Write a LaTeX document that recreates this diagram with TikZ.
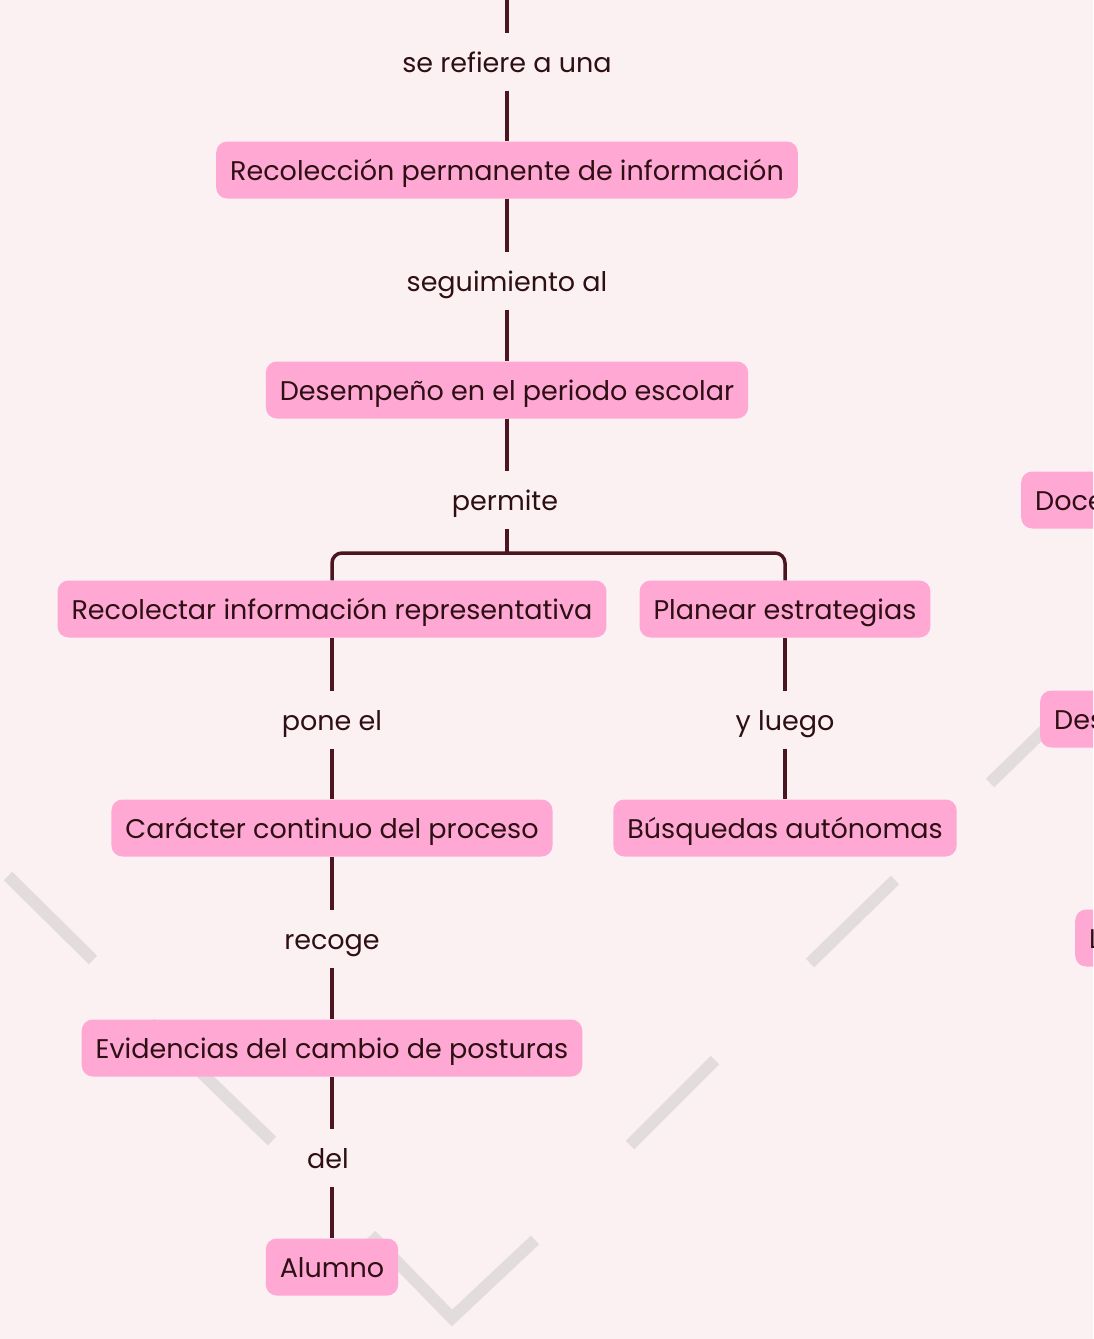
\documentclass[tikz,border=0pt]{standalone}
\usepackage{fontspec}
\setmainfont{Poppins}

\definecolor{fondo}{RGB}{251,241,242}
\definecolor{rosa}{RGB}{255,168,212}
\definecolor{vino}{RGB}{75,22,32}
\definecolor{tinta}{RGB}{45,15,20}
\definecolor{gris}{RGB}{227,220,221}

\tikzset{
  caja/.style={fill=rosa, rounded corners=11pt, text=tinta, minimum height=57pt, inner xsep=14pt, text height=26pt, text depth=5pt, font=\fontsize{27}{32}\selectfont},
  enlace/.style={text=tinta, minimum height=57pt, inner sep=0pt, text height=26pt, text depth=5pt, font=\fontsize{27}{32}\selectfont},
  linea/.style={vino, line width=3.5pt},
  raya/.style={gris, line width=12pt}
}

\begin{document}
\begin{tikzpicture}[x=1pt,y=-1pt]
    \clip (0,0) rectangle (1093,1339);
    \fill [fondo] (0,0) rectangle (1093,1339);
    % decorative strokes behind the map
    \draw [raya] (8,876) -- (93,960);
    \draw [raya] (150,1023) -- (272,1141);
    \draw [raya] (371,1235) -- (452,1318) -- (535,1240);
    \draw [raya] (630,1145) -- (715,1060);
    \draw [raya] (810,963) -- (895,880);
    \draw [raya] (990,783) -- (1062,713);

    \coordinate (arriba) at (507,0);
    \node [enlace] (refiere) at (507,62) {se refiere a una};
    \node [caja] (recoleccion) at (507,170) {Recolección permanente de información};
    \node [enlace] (seguimiento) at (507,281) {seguimiento al};
    \node [caja] (desempeno) at (507,390) {Desempeño en el periodo escolar};
    \node [enlace] (permite) at (505,500) {permite};
    \coordinate (horca) at (507,553);
    \node [caja] (recolectar) at (332,609) {Recolectar información representativa};
    \node [caja] (planear) at (785,609) {Planear estrategias};
    \node [enlace] (pone) at (332,720) {pone el};
    \node [enlace] (luego) at (785,720) {y luego};
    \node [caja] (caracter) at (332,828) {Carácter continuo del proceso};
    \node [caja] (busquedas) at (785,828) {Búsquedas autónomas};
    \node [enlace] (recoge) at (332,939) {recoge};
    \node [caja] (evidencias) at (332,1048) {Evidencias del cambio de posturas};
    \node [enlace] (del) at (328,1158) {del};
    \node [caja] (alumno) at (332,1267) {Alumno};
    % cut off at the right edge
    \node [caja, anchor=west, text width=120pt] (doce) at (1021,500) {Doce};
    \node [caja, anchor=west, text width=120pt] (des) at (1040,719) {Des};
    \node [caja, anchor=west, text width=120pt] (ele) at (1075,938) {L};

    \draw [linea] (arriba) -- (refiere);
    \draw [linea] (refiere) -- (recoleccion);
    \draw [linea] (recoleccion) -- (seguimiento);
    \draw [linea] (seguimiento) -- (desempeno);
    \draw [linea] (desempeno) -- (desempeno |- permite.north);
    \draw [linea] (horca |- permite.south) -- (horca);
    \draw [linea, rounded corners=10pt] (horca) -| (recolectar);
    \draw [linea, rounded corners=10pt] (horca) -| (planear);
    \draw [linea] (recolectar) -- (pone);
    \draw [linea] (pone) -- (caracter);
    \draw [linea] (planear) -- (luego);
    \draw [linea] (luego) -- (busquedas);
    \draw [linea] (caracter) -- (recoge);
    \draw [linea] (recoge) -- (evidencias);
    \draw [linea] (evidencias) -- (evidencias |- del.north);
    \draw [linea] (alumno |- del.south) -- (alumno);
\end{tikzpicture}
\end{document}
